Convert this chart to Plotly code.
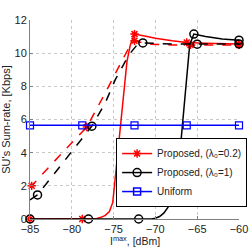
import plotly.graph_objects as go

# Red solid: Proposed, lambda0 = 0.2 (solid)
red_solid_x = [-85, -80, -78.75, -77.5, -77, -76.5, -76, -75.5, -75.1, -74.7, -74.1, -73.4, -73.0, -72.5, -71, -70, -68, -66.25, -64, -62, -60]
red_solid_y = [0, 0, 0, 0, 0.03, 0.1, 0.22, 0.45, 1.0, 3.0, 6.0, 9.5, 10.5, 11.15, 11.0, 10.9, 10.75, 10.65, 10.6, 10.57, 10.55]
red_solid_mx = [-85, -78.75, -72.5, -66.25, -60]
red_solid_my = [0, 0, 11.15, 10.65, 10.55]

# Red dashed: lambda0 = 0.2 (dashed)
red_dash_x = [-85, -84.8, -81.5, -78.2, -76, -74, -73, -72.5, -71, -68, -66, -63, -60]
red_dash_y = [1.9, 2.0, 3.8, 5.55, 7.6, 9.5, 10.5, 10.75, 10.55, 10.5, 10.5, 10.5, 10.5]
red_dash_mx = [-84.8, -78.2, -72.5, -65.8, -60]
red_dash_my = [2.0, 5.55, 10.75, 10.5, 10.5]

# Black solid: Proposed, lambda0 = 1 (solid)
blk_solid_x = [-85, -78, -72, -70.5, -70, -69.5, -69, -68.5, -68, -67.5, -67.1, -66.8, -66.5, -66.2, -65.9, -65.4, -64, -62, -60]
blk_solid_y = [0, 0, 0, 0, 0.05, 0.15, 0.35, 0.7, 1.4, 2.6, 3.8, 5.5, 7.3, 9.0, 10.5, 11.15, 11.0, 10.85, 10.78]
blk_solid_mx = [-85, -78, -72, -65.4, -60]
blk_solid_my = [0, 0, 0, 11.15, 10.78]

# Black dashed: lambda0 = 1 (dashed)
blk_dash_x = [-85, -84.1, -81, -77.6, -76, -74.8, -73.6, -73, -72.2, -71.5, -68, -65, -62, -60]
blk_dash_y = [1.15, 1.45, 3.43, 5.6, 7.0, 8.4, 9.5, 10.0, 10.5, 10.62, 10.55, 10.54, 10.55, 10.56]
blk_dash_mx = [-84.1, -77.6, -71.5, -65, -60]
blk_dash_my = [1.45, 5.6, 10.62, 10.54, 10.56]

# Uniform
uni_x = [-85, -78.75, -72.5, -66.25, -60]
uni_y = [5.65, 5.65, 5.65, 5.65, 5.65]

x_ticks = [-85, -80, -75, -70, -65, -60]
y_ticks = [0, 2, 4, 6, 8, 10, 12]

legend_names = ["Proposed, (λ₀=0.2)", "Proposed, (λ₀=1)", "Uniform"]
x_title = "I<sup>max</sup>, [dBm]"
y_title = "SU's Sum-rate, [Kbps]"

RED = "#ff0000"
BLK = "#000000"
BLU = "#0000ff"

fig = go.Figure()

def add_series(x, y, mx, my, color, dash, symbol, msize):
    fig.add_trace(go.Scatter(x=x, y=y, mode="lines", showlegend=False,
                             line=dict(color=color, width=1.5, dash=dash),
                             cliponaxis=False, hoverinfo="skip"))
    fig.add_trace(go.Scatter(x=mx, y=my, mode="markers", showlegend=False,
                             marker=dict(symbol=symbol, size=msize, color=color,
                                         line=dict(color=color, width=1.5)),
                             cliponaxis=False, hoverinfo="skip"))

add_series(red_solid_x, red_solid_y, red_solid_mx, red_solid_my, RED, "solid", "asterisk-open", 7)
add_series(red_dash_x, red_dash_y, red_dash_mx, red_dash_my, RED, "dash", "asterisk-open", 7)
add_series(blk_solid_x, blk_solid_y, blk_solid_mx, blk_solid_my, BLK, "solid", "circle-open", 8)
add_series(blk_dash_x, blk_dash_y, blk_dash_mx, blk_dash_my, BLK, "dash", "circle-open", 8)
fig.add_trace(go.Scatter(x=uni_x, y=uni_y, mode="lines+markers", showlegend=False,
                         line=dict(color=BLU, width=1.5),
                         marker=dict(symbol="square-open", size=7, color=BLU, line=dict(color=BLU, width=1.2)),
                         cliponaxis=False, hoverinfo="skip"))

# legend entries
for name, color, symbol, msize in zip(legend_names, [RED, BLK, BLU],
                                      ["asterisk-open", "circle-open", "square-open"], [7, 8, 7]):
    fig.add_trace(go.Scatter(x=[None], y=[None], mode="lines+markers", name=name,
                             line=dict(color=color, width=1.5),
                             marker=dict(symbol=symbol, size=msize, color=color,
                                         line=dict(color=color, width=1.5))))

axis_common = dict(showgrid=True, gridcolor="#c8c8c8", griddash="dot", gridwidth=1,
                   showline=True, linecolor="#808080", linewidth=1,
                   ticks="inside", ticklen=3, tickcolor="#808080",
                   zeroline=False, automargin=False,
                   tickfont=dict(size=11, color="#222222"))

fig.update_layout(
    width=249, height=247,
    margin=dict(l=30, r=10, t=20, b=28, autoexpand=False),
    paper_bgcolor="white", plot_bgcolor="white",
    font=dict(family="Liberation Sans, Arial, sans-serif", size=11, color="#222222"),
    xaxis=dict(range=[-85, -60], tickvals=x_ticks, **axis_common),
    yaxis=dict(range=[0, 12], tickvals=y_ticks,
               title=dict(text=y_title, font=dict(size=11)),
               **axis_common),
    legend=dict(x=0.412, y=0.06, xanchor="left", yanchor="bottom",
                bgcolor="white", bordercolor="black", borderwidth=1,
                font=dict(size=10), tracegroupgap=0, itemwidth=30),
    annotations=[dict(text=x_title, xref="paper", yref="paper", x=0.5, y=-0.146,
                      xanchor="center", yanchor="bottom", showarrow=False, borderpad=0,
                      font=dict(size=10.5, color="#222222"))],
)

fig.write_html("out.html", config={"displayModeBar": False},
               post_script="document.body.style.margin='0';document.body.style.overflow='hidden';")
